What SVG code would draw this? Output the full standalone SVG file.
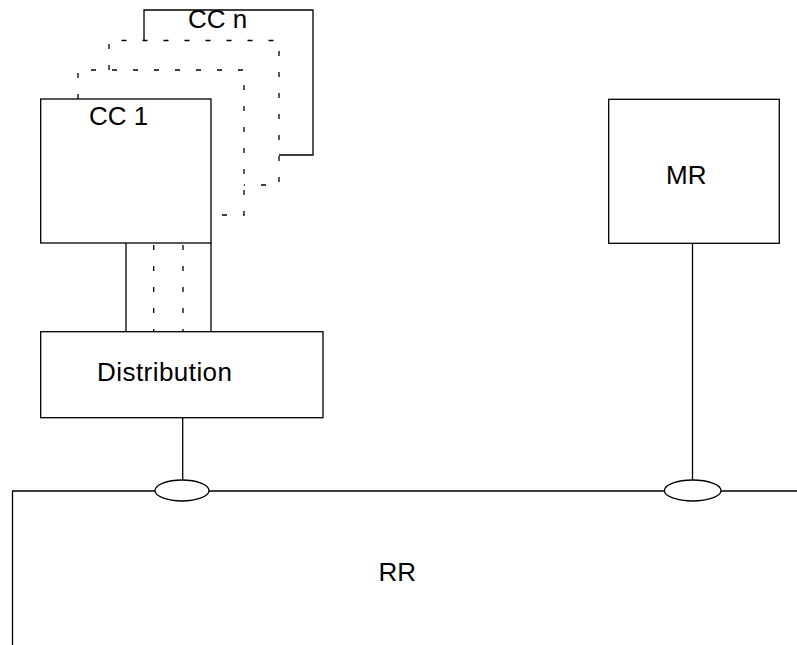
<svg xmlns="http://www.w3.org/2000/svg" width="797" height="645" viewBox="0 0 797 645">
<style>
.s{fill:none;stroke:#000;stroke-width:1.3}
.box{fill:#fff;stroke:#000;stroke-width:1.3}
.d{fill:none;stroke:#000;stroke-width:1.3;stroke-dasharray:5 16}
.t{font-family:"Liberation Sans",Arial,sans-serif;font-size:26px;fill:#000}
</style>
<rect width="797" height="645" fill="#fff"/>
<g id="ccn">
<path class="s" d="M144,40.5 V10 H313 V155 H279"/>
<text class="t" x="188" y="28.3">CC n</text>
</g>
<g id="cc-mid">
<path class="d" d="M109,70 V40.5 H279 V185 H244"/>
</g>
<g id="cc-2">
<path class="d" d="M78,99 V70 H244 V215 H211"/>
</g>
<g id="cc1">
<rect class="box" x="40.7" y="99" width="170.3" height="144"/>
<text class="t" x="89" y="125">CC 1</text>
</g>
<g id="distribution">
<rect class="box" x="40.7" y="331.7" width="282.3" height="86"/>
<text class="t" x="97" y="380.7" textLength="135">Distribution</text>
</g>
<g id="mr">
<rect class="box" x="608.7" y="99.3" width="170.6" height="144"/>
<text class="t" x="666" y="184">MR</text>
</g>
<g id="rr">
<path class="s" d="M12.5,645 V491 H797"/>
<text class="t" x="378.5" y="581">RR</text>
</g>
<g id="connectors">
<line class="s" x1="126" y1="243" x2="126" y2="331.7"/>
<line class="s" x1="211" y1="243" x2="211" y2="331.7"/>
<line class="d" x1="153.7" y1="245" x2="153.7" y2="331.7"/>
<line class="d" x1="183" y1="245" x2="183" y2="331.7"/>
<line class="s" x1="182.7" y1="417.7" x2="182.7" y2="480"/>
<line class="s" x1="692.5" y1="243.3" x2="692.5" y2="480"/>
<ellipse class="box" cx="182" cy="490.5" rx="27" ry="10.5"/>
<ellipse class="box" cx="692.7" cy="490.5" rx="28.3" ry="10.5"/>
</g>
</svg>
